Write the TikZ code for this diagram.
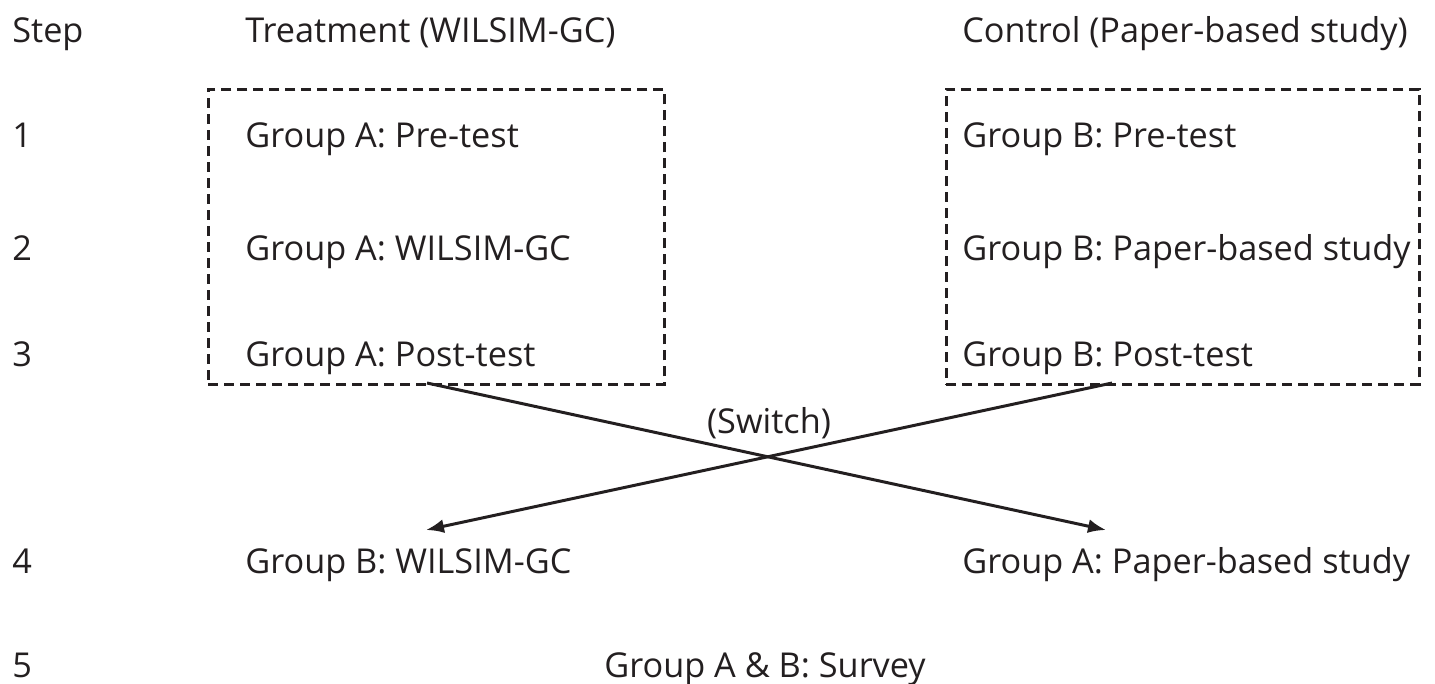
\documentclass[tikz,border=0pt]{standalone}
\usepackage{fontspec}
\setmainfont{Open Sans}
\usepackage{tikz}
\usetikzlibrary{arrows.meta,calc,positioning}
\definecolor{ink}{HTML}{231F20}

\begin{document}
\begin{tikzpicture}[x=0.02cm,y=-0.02cm,>={Latex[length=0.36cm,width=0.28cm]},
  txt/.style={anchor=base west,inner sep=0pt,text=ink,font=\fontsize{19.5}{22}\selectfont},
  grpbox/.style={draw=ink,line width=1.6pt,dash pattern=on 0.2cm off 0.12cm,
    inner sep=0pt,anchor=north west},
  switch/.style={->,draw=ink,line width=1.7pt}]
  \useasboundingbox (0,0) rectangle (1435,683);
  % 見出し
  \node[txt] (hstep) at (12,42) {Step};
  \node[txt] (htreat) at (245,42) {Treatment (WILSIM-GC)};
  \node[txt] (hctrl) at (962,42) {Control (Paper-based study)};
  % ステップ番号
  \foreach \n/\y in {1/147,2/260,3/366,4/573,5/677}
    \node[txt] (s\n) at (12,\y) {\n};
  % 破線の枠
  \node[grpbox,minimum width=9.12cm,minimum height=5.9cm] (boxA) at (207,88) {};
  \node[grpbox,minimum width=9.46cm,minimum height=5.9cm] (boxB) at (945,88) {};
  % グループ A
  \node[txt] (a1) at (245,147) {Group A: Pre-test};
  \node[txt] (a2) at (245,260) {Group A: WILSIM-GC};
  \node[txt] (a3) at (245,366) {Group A: Post-test};
  % グループ B
  \node[txt] (b1) at (962,147) {Group B: Pre-test};
  \node[txt] (b2) at (962,260) {Group B: Paper-based study};
  \node[txt] (b3) at (962,366) {Group B: Post-test};
  % 入れ替え後
  \node[txt] (b4) at (245,573) {Group B: WILSIM-GC};
  \node[txt] (a4) at (962,573) {Group A: Paper-based study};
  \node[txt,anchor=base] (ab5) at (765,677) {Group A \& B: Survey};
  % 入れ替えの矢印
  \coordinate (outA) at (427,383);
  \coordinate (outB) at (1112,383);
  \coordinate (inA) at (1106,530);
  \coordinate (inB) at (426,530);
  \draw[switch] (outA) -- (inA);
  \draw[switch] (outB) -- (inB);
  \node[txt,anchor=base] (sw) at (769,433) {(Switch)};
\end{tikzpicture}
\end{document}
